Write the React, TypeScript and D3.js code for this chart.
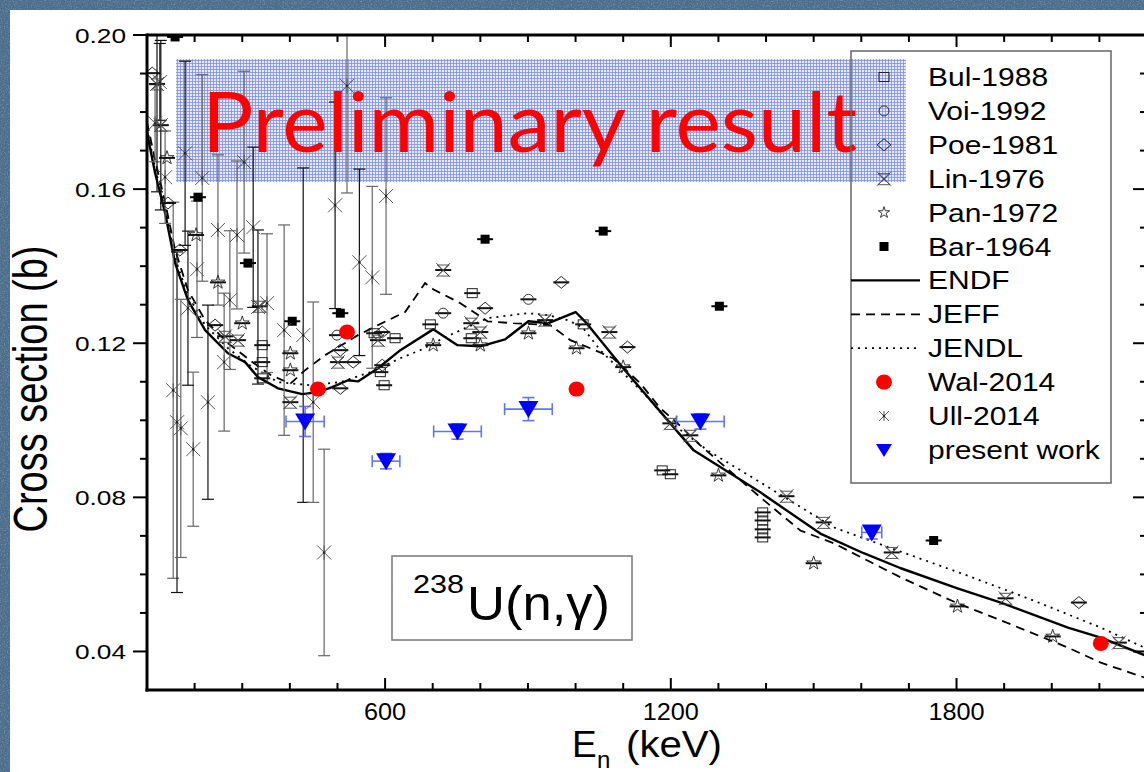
import React from 'react';
import * as d3 from 'd3';

type P = [number, number];

// ---------- data (E in keV, cross section in b) ----------
const endf: P[] = [[100,0.1753],[102,0.1735],[117,0.1642],[138,0.1538],[159,0.1408],[186,0.1312],[222,0.1234],[270,0.1174],[306,0.1151],[333,0.1112],[375,0.1083],[426,0.1068],[459,0.1073],[489,0.1086],[522,0.1104],[543,0.1101],[585,0.1135],[632,0.1182],[701,0.1236],[752,0.1195],[800,0.1192],[852,0.1210],[901,0.1257],[943,0.1252],[1000,0.1281],[1021,0.1255],[1100,0.1135],[1199,0.0992],[1248,0.0922],[1388,0.0813],[1514,0.0706],[1605,0.0655],[1683,0.0616],[1802,0.0564],[1893,0.0527],[2034,0.0462],[2103,0.0436],[2200,0.0388]];
const jeff: P[] = [[100,0.1774],[117,0.1675],[138,0.1566],[159,0.1442],[186,0.1338],[222,0.1260],[270,0.1200],[316,0.1156],[359,0.1118],[401,0.1095],[432,0.1130],[474,0.1169],[543,0.1221],[585,0.1247],[642,0.1281],[684,0.1356],[701,0.1340],[758,0.1304],[815,0.1257],[869,0.1252],[947,0.1247],[989,0.1208],[1031,0.1187],[1079,0.1161],[1136,0.1096],[1178,0.1031],[1214,0.0992],[1262,0.0935],[1388,0.0800],[1472,0.0714],[1542,0.0681],[1613,0.0636],[1683,0.0592],[1802,0.0525],[1893,0.0481],[2034,0.0410],[2103,0.0371],[2200,0.0330]];
const jendl: P[] = [[100,0.1758],[117,0.1655],[138,0.1551],[159,0.1421],[186,0.1325],[222,0.1247],[270,0.1187],[316,0.1143],[375,0.1099],[443,0.1091],[506,0.1099],[569,0.1125],[632,0.1161],[674,0.1182],[722,0.1213],[773,0.1242],[815,0.1265],[899,0.1278],[941,0.1273],[983,0.1260],[1014,0.1242],[1052,0.1182],[1094,0.1130],[1151,0.1060],[1193,0.1000],[1241,0.0956],[1277,0.0922],[1388,0.0839],[1542,0.0722],[1647,0.0675],[1823,0.0597],[1962,0.0532],[2103,0.0462],[2200,0.0407]];

// present work: E, sigma, dE, dsigma
const presentWork: [number, number, number, number][] = [[432,0.0997,40,0.0039],[602,0.0894,29,0.0020],[752,0.0971,50,0.0020],[901,0.1029,50,0.0030],[1262,0.0997,50,0.0020],[1622,0.0709,21,0.0017]];
const wal2014: P[] = [[459,0.1081],[520,0.1229],[1002,0.1081],[2103,0.0421]];
const bar1964: P[] = [[159,0.1995],[207,0.1579],[312,0.1408],[405,0.1257],[506,0.1278],[810,0.1470],[1058,0.1491],[1302,0.1296],[1752,0.0688]];
const bul1988: P[] = [[342,0.1195],[342,0.1151],[342,0.1109],[577,0.1226],[621,0.1213],[590,0.1125],[598,0.1091],[695,0.1249],[783,0.1330],[781,0.1213],[1016,0.1249],[1182,0.0870],[1199,0.0860],[1393,0.0761],[1393,0.0740],[1393,0.0717],[1393,0.0696]];
const voi1992: P[] = [[499,0.1221],[722,0.1278],[901,0.1314]];
const poe1981: P[] = [[111,0.1901],[144,0.1564],[169,0.1442],[243,0.1247],[506,0.1182],[506,0.1083],[533,0.1151],[594,0.1229],[594,0.1143],[810,0.1291],[970,0.1358],[1109,0.1190],[2057,0.0527]];
const lin1976: P[] = [[121,0.1873],[129,0.1766],[264,0.1218],[291,0.1208],[337,0.1296],[401,0.1047],[501,0.1151],[585,0.1208],[722,0.1390],[781,0.1252],[800,0.1229],[936,0.1260],[1071,0.1229],[1199,0.0992],[1241,0.0961],[1443,0.0803],[1521,0.0735],[1664,0.0657],[1903,0.0538],[2141,0.0423]];
const linErr: [number, number, number][] = [[121,0.1873,0.028],[129,0.1766,0.022]];
const pan1972: P[] = [[142,0.1681],[203,0.1481],[249,0.1358],[300,0.1252],[401,0.1174],[401,0.1130],[701,0.1195],[800,0.1195],[901,0.1226],[1002,0.1187],[1100,0.1138],[1300,0.0857],[1500,0.0629],[1802,0.0517],[2002,0.0439]];
// Ull-2014: E, sigma, dsigma
const ull2014: [number, number, number][] = [[180,0.1693,0.0239],[216,0.1629,0.0268],[304,0.1670,0.0236],[323,0.1501,0.0208],[249,0.1494,0.0195],[289,0.1481,0.0192],[495,0.1558,0.0268],[520,0.1868,0.0278],[602,0.1582,0.0255],[546,0.1410,0.0242],[573,0.1371,0.0236],[155,0.1078,0.0488],[163,0.0995,0.0442],[171,0.0979,0.0335],[197,0.0925,0.0200],[228,0.1047,0.0252],[262,0.1151,0.0179],[388,0.1234,0.0273],[428,0.1221,0.0434],[472,0.0657,0.0268],[138,0.1631,0.012],[127,0.1878,0.010],[117,0.1771,0.010],[205,0.1392,0.0177],[186,0.1291,0.020],[449,0.1047,0.026],[274,0.1312,0.018],[333,0.1294,0.020],[352,0.1304,0.018]];

const xMajor = [600, 1200, 1800];
const xMinor = d3.range(200, 2200, 100);
const yMajor = [0.04, 0.08, 0.12, 0.16, 0.20];
const yMinor = d3.range(4, 21).map(i => i / 100);
const xTickLabels = ['600', '1200', '1800'];
const yTickLabels = ['0.04', '0.08', '0.12', '0.16', '0.20'];
const legendNames = ['Bul-1988','Voi-1992','Poe-1981','Lin-1976','Pan-1972','Bar-1964','ENDF','JEFF','JENDL','Wal-2014','Ull-2014','present work'];

const x = d3.scaleLinear().domain([100, 2200]).range([147, 1147]);
const y = d3.scaleLinear().domain([0.03, 0.20]).range([690, 35]);
const line = d3.line<P>().x(d => x(d[0])).y(d => y(d[1]));

const FONT = "'Liberation Sans', Arial, Helvetica, sans-serif";
const starPath = d3.symbol(d3.symbolStar, 60)() as string;
const starSmall = d3.symbol(d3.symbolStar, 40)() as string;

function Marker({ kind, cx, cy, legend = false }: { kind: string; cx: number; cy: number; legend?: boolean }) {
  const bar = legend ? null : <line x1={cx - 8} x2={cx + 8} y1={cy} y2={cy} stroke="#111" strokeWidth={2} />;
  switch (kind) {
    case 'bul':
      return <g>{bar}<rect x={cx - 5} y={cy - 4.5} width={10} height={9} fill="none" stroke="#222" strokeWidth={1} /></g>;
    case 'voi':
      return <g>{bar}<circle cx={cx} cy={cy} r={5} fill="none" stroke="#333" strokeWidth={1} /></g>;
    case 'poe':
      return <g>{bar}<path d={`M${cx},${cy - 6}L${cx + 7},${cy}L${cx},${cy + 6}L${cx - 7},${cy}Z`} fill="none" stroke="#222" strokeWidth={1} /></g>;
    case 'lin':
      return <g>{bar}<path d={`M${cx - 6},${cy - 5}L${cx + 6},${cy - 5}L${cx - 6},${cy + 6}L${cx + 6},${cy + 6}Z M${cx - 7},${cy - 7}L${cx + 7},${cy + 7}M${cx + 7},${cy - 7}L${cx - 7},${cy + 7}`} fill="none" stroke="#444" strokeWidth={0.9} /></g>;
    case 'pan':
      return <g>{bar}<path d={legend ? starSmall : starPath} transform={`translate(${cx},${cy})`} fill="none" stroke="#222" strokeWidth={0.9} /></g>;
    case 'bar':
      return <g>{legend ? null : <line x1={cx - 8} x2={cx + 8} y1={cy} y2={cy} stroke="#000" strokeWidth={2} />}<rect x={cx - 4.5} y={cy - 4.5} width={9} height={9} fill="#000" /></g>;
    case 'wal':
      return <ellipse cx={cx} cy={cy} rx={8} ry={7.5} fill="#ff0000" />;
    case 'ull': {
      const s = legend ? 5 : 7;
      return <g stroke="#555" strokeWidth={1}>
        <line x1={cx - s} x2={cx + s} y1={cy - s} y2={cy + s} />
        <line x1={cx - s} x2={cx + s} y1={cy + s} y2={cy - s} />
        <line x1={cx} x2={cx} y1={cy - s} y2={cy + s} />
        <circle cx={cx} cy={cy} r={1.2} fill="#222" stroke="none" />
      </g>;
    }
    case 'pw':
      return <path d={`M${cx - 10},${cy - 8}L${cx + 10},${cy - 8}L${cx},${cy + 9}Z`} fill="#0000ff" />;
    default:
      return null;
  }
}

function VErr({ cx, v, e, color, w = 1.2 }: { cx: number; v: number; e: number; color: string; w?: number }) {
  const y1 = y(v + e), y2 = y(v - e);
  return <g stroke={color} strokeWidth={w}>
    <line x1={cx} x2={cx} y1={y1} y2={y2} />
    <line x1={cx - 6} x2={cx + 6} y1={y1} y2={y1} />
    <line x1={cx - 6} x2={cx + 6} y1={y2} y2={y2} />
  </g>;
}

export default function App() {
  const legendY = (i: number) => 77 + i * 33.9;
  const kinds = ['bul', 'voi', 'poe', 'lin', 'pan', 'bar'];
  return (
    <svg width={1144} height={772} style={{ position: 'absolute', left: 0, top: 0, display: 'block' }} xmlns="http://www.w3.org/2000/svg">
      <defs>
        <pattern id="hatch" width={3} height={3} patternUnits="userSpaceOnUse">
          <rect width={3} height={3} fill="#e4e8f8" />
          <path d="M0,0.5H3M0.5,0V3" stroke="#8292dc" strokeWidth={0.8} />
        </pattern>
        <filter id="noise" x="0" y="0" width="100%" height="100%">
          <feTurbulence type="fractalNoise" baseFrequency="0.7" numOctaves={3} seed={4} />
          <feColorMatrix type="matrix" values="0 0 0 0 0.85  0 0 0 0 0.9  0 0 0 0 0.97  1.2 0 0 0 -0.55" />
        </filter>
        <clipPath id="plot"><rect x={147} y={35} width={1000} height={655} /></clipPath>
      </defs>

      {/* slide background */}
      <rect width={1144} height={772} fill="#4c6d8b" />
      <rect width={1144} height={772} filter="url(#noise)" opacity={0.5} />
      <rect x={10} y={10} width={1134} height={762} fill="#ffffff" />

      {/* preliminary hatch */}
      <rect x={176} y={59} width={730} height={123} fill="url(#hatch)" />

      <g clipPath="url(#plot)">
        {/* model curves */}
        <path d={line(endf) ?? ''} fill="none" stroke="#000" strokeWidth={2.4} strokeLinejoin="round" />
        <path d={line(jeff) ?? ''} fill="none" stroke="#000" strokeWidth={1.8} strokeDasharray="9,6" />
        <path d={line(jendl) ?? ''} fill="none" stroke="#000" strokeWidth={1.8} strokeDasharray="2,5" />

        {/* error bars */}
        {ull2014.map((d, i) => <VErr key={'ue' + i} cx={x(d[0])} v={d[1]} e={d[2]} color={i % 3 === 0 ? '#111' : '#666'} />)}
        {linErr.map((d, i) => <VErr key={'le' + i} cx={x(d[0])} v={d[1]} e={d[2]} color="#111" />)}

        {bul1988.map((d, i) => <Marker key={'b' + i} kind="bul" cx={x(d[0])} cy={y(d[1])} />)}
        {voi1992.map((d, i) => <Marker key={'v' + i} kind="voi" cx={x(d[0])} cy={y(d[1])} />)}
        {poe1981.map((d, i) => <Marker key={'p' + i} kind="poe" cx={x(d[0])} cy={y(d[1])} />)}
        {lin1976.map((d, i) => <Marker key={'l' + i} kind="lin" cx={x(d[0])} cy={y(d[1])} />)}
        {pan1972.map((d, i) => <Marker key={'pa' + i} kind="pan" cx={x(d[0])} cy={y(d[1])} />)}
        {bar1964.map((d, i) => <Marker key={'ba' + i} kind="bar" cx={x(d[0])} cy={y(d[1])} />)}
        {ull2014.map((d, i) => <Marker key={'u' + i} kind="ull" cx={x(d[0])} cy={y(d[1])} />)}
        {wal2014.map((d, i) => <Marker key={'w' + i} kind="wal" cx={x(d[0])} cy={y(d[1])} />)}

        {/* present work */}
        {presentWork.map((d, i) => {
          const cx = x(d[0]), cy = y(d[1]);
          const xl = x(d[0] - d[2]), xr = x(d[0] + d[2]);
          const yt = y(d[1] + d[3]), yb = y(d[1] - d[3]);
          return <g key={'pw' + i}>
            <g stroke="#4a5cf5" strokeWidth={1.6} opacity={0.85}>
              <line x1={xl} x2={xr} y1={cy} y2={cy} />
              <line x1={xl} x2={xl} y1={cy - 6} y2={cy + 6} />
              <line x1={xr} x2={xr} y1={cy - 6} y2={cy + 6} />
              <line x1={cx} x2={cx} y1={yt} y2={yb} />
              <line x1={cx - 6} x2={cx + 6} y1={yt} y2={yt} />
              <line x1={cx - 6} x2={cx + 6} y1={yb} y2={yb} />
            </g>
            <Marker kind="pw" cx={cx} cy={cy} />
          </g>;
        })}
      </g>

      {/* axes */}
      <g stroke="#000">
        <line x1={147} x2={1147} y1={35} y2={35} strokeWidth={3} />
        <line x1={145.5} x2={1147} y1={690} y2={690} strokeWidth={3} />
        <line x1={147} x2={147} y1={33.5} y2={691.5} strokeWidth={3} />
        {xMinor.map(t => {
          const major = xMajor.includes(t);
          const len = major ? 12 : 7;
          return <g key={'xt' + t} strokeWidth={2}>
            <line x1={x(t)} x2={x(t)} y1={690} y2={690 - len} />
            <line x1={x(t)} x2={x(t)} y1={35} y2={35 + len} />
          </g>;
        })}
        {yMinor.map(t => {
          const major = yMajor.some(m => Math.abs(m - t) < 1e-6);
          const len = major ? 14 : 7;
          return <g key={'yt' + t} strokeWidth={2}>
            <line x1={147} x2={147 - len} y1={y(t)} y2={y(t)} />
            <line x1={1147} x2={1147 - len} y1={y(t)} y2={y(t)} />
          </g>;
        })}
      </g>

      {/* tick labels */}
      {xMajor.map((t, i) => (
        <text key={'xl' + t} transform={`translate(${x(t)},720) scale(1.1,1)`} textAnchor="middle" fontFamily={FONT} fontSize={23} fill="#000">{xTickLabels[i]}</text>
      ))}
      {yMajor.map((t, i) => (
        <text key={'yl' + t} transform={`translate(126,${y(t) + 7.5}) scale(1.25,1)`} textAnchor="end" fontFamily={FONT} fontSize={21} fill="#000">{yTickLabels[i]}</text>
      ))}

      {/* axis titles */}
      <text transform="translate(47,389) rotate(-90) scale(1,1.25)" textAnchor="middle" fontFamily={FONT} fontSize={38} textLength={287} lengthAdjust="spacingAndGlyphs" fill="#000">Cross section (b)</text>
      <text x={572} y={757} fontFamily={FONT} fontSize={37} fill="#000">E</text>
      <text x={597} y={768} fontFamily={FONT} fontSize={24} fill="#000">n</text>
      <text x={626} y={757} fontFamily={FONT} fontSize={37} textLength={96} lengthAdjust="spacingAndGlyphs" fill="#000">(keV)</text>

      {/* reaction label */}
      <rect x={392} y={556} width={240} height={84} fill="none" stroke="#777" strokeWidth={1.5} />
      <text x={413} y={593} fontFamily={FONT} fontSize={26} textLength={51} lengthAdjust="spacingAndGlyphs" fill="#000">238</text>
      <text x={467} y={620} fontFamily={FONT} fontSize={48} textLength={143} lengthAdjust="spacingAndGlyphs" fill="#000">U(n,γ)</text>

      {/* preliminary text */}
      <text x={202} y={152} fontFamily="Lato, 'Open Sans', sans-serif" fontWeight={400} fontSize={84} textLength={655} lengthAdjust="spacingAndGlyphs" fill="#ff0000">Preliminary result</text>

      {/* legend */}
      <rect x={851} y={51} width={260} height={432} fill="none" stroke="#666" strokeWidth={1.5} />
      {legendNames.map((name, i) => {
        const ly = legendY(i);
        let sym: React.ReactNode = null;
        if (i < 6) sym = <Marker kind={kinds[i]} cx={884} cy={ly} legend />;
        else if (i === 6) sym = <line x1={851} x2={920} y1={ly} y2={ly} stroke="#000" strokeWidth={2.4} />;
        else if (i === 7) sym = <line x1={851} x2={920} y1={ly} y2={ly} stroke="#000" strokeWidth={1.8} strokeDasharray="9,6" />;
        else if (i === 8) sym = <line x1={851} x2={920} y1={ly} y2={ly} stroke="#000" strokeWidth={1.8} strokeDasharray="2,5" />;
        else if (i === 9) sym = <Marker kind="wal" cx={884} cy={ly} legend />;
        else if (i === 10) sym = <Marker kind="ull" cx={884} cy={ly} legend />;
        else sym = <path d={`M${884 - 8},${ly - 6}L${884 + 8},${ly - 6}L${884},${ly + 7}Z`} fill="#0000ff" />;
        return <g key={name}>
          {sym}
          <text transform={`translate(928,${ly + 9}) scale(1.2,1)`} fontFamily={FONT} fontSize={25} fill="#000">{name}</text>
        </g>;
      })}
    </svg>
  );
}
